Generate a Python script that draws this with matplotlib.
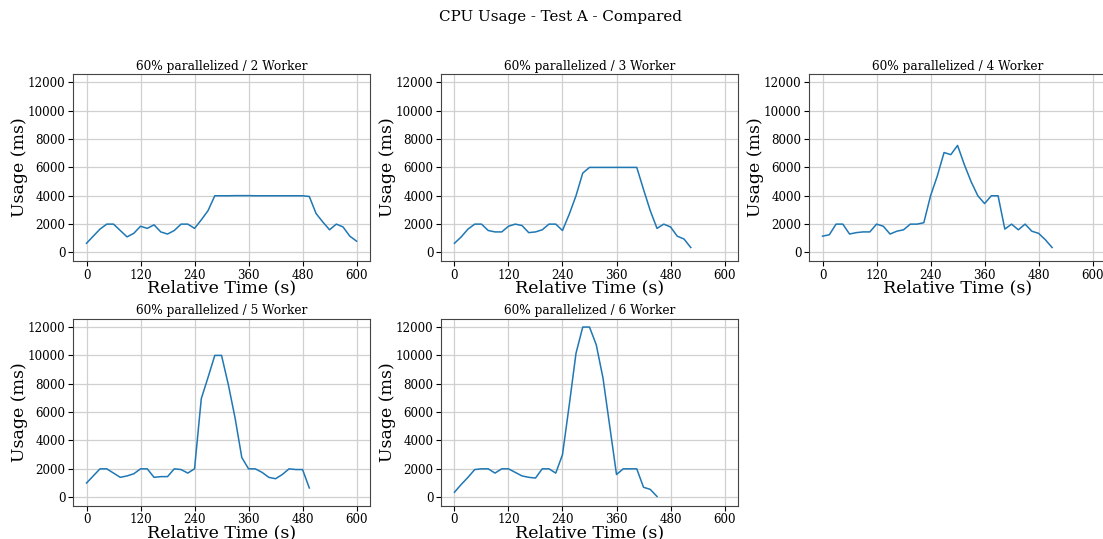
import matplotlib
matplotlib.use('Agg')
import matplotlib.pyplot as plt
import numpy as np

plt.rcParams['font.family'] = 'DejaVu Serif'

# samples every 15 s, CPU usage in ms per worker count
step = 15
workers = [2, 3, 4, 5, 6]

usage_2 = [650, 1150, 1650, 2000, 2000, 1550, 1100, 1350, 1850, 1700, 1950, 1450, 1300, 1550,
           2000, 2000, 1700, 2300, 2950, 4000, 4000, 4000, 4010, 4010, 4010, 4000, 4000, 4000,
           4000, 4000, 4000, 4000, 4000, 3950, 2750, 2150, 1600, 2000, 1800, 1150, 800]
usage_3 = [650, 1100, 1650, 2000, 2000, 1550, 1450, 1450, 1850, 2000, 1900, 1400, 1450, 1600,
           2000, 2000, 1550, 2700, 4000, 5600, 6000, 6000, 6000, 6000, 6000, 6000, 6000, 6000,
           4450, 2950, 1700, 2000, 1800, 1150, 950, 350]
usage_4 = [1150, 1250, 2000, 2000, 1300, 1400, 1450, 1450, 2000, 1850, 1300, 1500, 1600, 2000,
           2000, 2100, 4000, 5400, 7050, 6900, 7550, 6200, 5000, 4000, 3450, 4000, 4000, 1650,
           2000, 1600, 2000, 1500, 1350, 900, 350]
usage_5 = [1000, 1500, 2000, 2000, 1700, 1400, 1500, 1650, 2000, 2000, 1400, 1450, 1450, 2000,
           1950, 1700, 2000, 6950, 8450, 10000, 10000, 7950, 5600, 2800, 2000, 2000, 1750, 1400,
           1300, 1600, 2000, 1950, 1950, 650]
usage_6 = [350, 900, 1400, 1950, 2000, 2000, 1700, 2000, 2000, 1750, 1500, 1400, 1350, 2000,
           2000, 1700, 3000, 6500, 10150, 12000, 12000, 10750, 8400, 5000, 1600, 2000, 2000, 2000,
           700, 550, 50]
series = [usage_2, usage_3, usage_4, usage_5, usage_6]

fig = plt.figure(figsize=(11.03, 5.39), dpi=100)
fig.suptitle('CPU Usage - Test A - Compared', fontsize=10.9, x=0.508, y=0.982)

lefts = [0.0662, 0.3998, 0.7335, 0.0662, 0.3998]
bottoms = [0.5158, 0.5158, 0.5158, 0.0618, 0.0618]

for w, vals, l, b in zip(workers, series, lefts, bottoms):
    ax = fig.add_axes([l, b, 0.2693, 0.3472])
    t = np.arange(len(vals)) * step
    ax.plot(t, vals, color='tab:blue', linewidth=1.1)
    ax.set_xlim(-30, 630)
    ax.set_ylim(-600, 12600)
    ax.set_xticks(range(0, 601, 120))
    ax.set_yticks(range(0, 12001, 2000))
    ax.grid(True, color='#d0d0d0', linewidth=0.9)
    ax.set_title(f'60% parallelized / {w} Worker', fontsize=8.7, pad=3)
    ax.set_xlabel('Relative Time (s)', fontsize=12.5, labelpad=-1.5)
    ax.set_ylabel('Usage (ms)', fontsize=12.5, labelpad=0)
    ax.tick_params(labelsize=8.6, pad=2)
    for s in ax.spines.values():
        s.set_color('#444444')

fig.savefig('out.png', dpi=100)
